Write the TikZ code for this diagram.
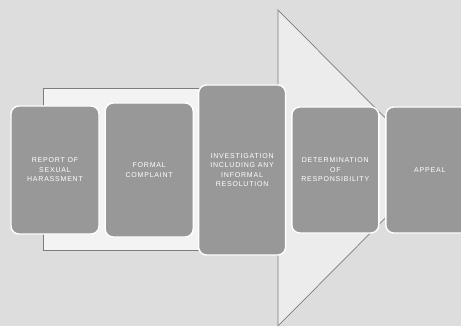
\documentclass[tikz,border=0pt]{standalone}
\usepackage{fontspec}
\setmainfont{Liberation Sans}
\newfontfamily\stepfont[LetterSpace=11]{Liberation Sans}
\usepackage{tikz}
\usetikzlibrary{positioning}
\definecolor{pagegray}{RGB}{221,221,221}
\definecolor{arrowfill}{RGB}{236,236,236}
\definecolor{framefill}{RGB}{243,243,243}
\definecolor{linegray}{RGB}{125,125,125}
\definecolor{boxgray}{RGB}{152,152,152}
\tikzset{
  stepbox/.style={draw=white,fill=boxgray,line width=0.7mm,rounded corners=4mm,
    minimum width=44mm,minimum height=64mm,align=center,text=white,
    font=\stepfont\fontsize{10}{13.5}\selectfont},
  outline/.style={draw=linegray,line width=0.35mm},
}
\begin{document}
\begin{tikzpicture}[x=0.5mm,y=-0.5mm]
  \useasboundingbox (0,0) rectangle (461,326);
  \fill[pagegray] (0,0) rectangle (461,326);
  % big arrow behind the steps
  \draw[outline,fill=arrowfill] (278,10) -- (435,168) -- (278,326) -- cycle;
  % frame round the first two steps
  \draw[outline,fill=framefill] (43,88) rectangle (215,250);
  \node[stepbox] (report) at (55,170) {REPORT OF\\SEXUAL\\HARASSMENT};
  \node[stepbox,minimum height=67mm,right=2.4mm of report] (complaint) {FORMAL\\COMPLAINT};
  \node[stepbox,minimum width=43.5mm,minimum height=85mm,right=2mm of complaint] (investigation)
    {INVESTIGATION\\INCLUDING ANY\\INFORMAL\\RESOLUTION};
  \node[stepbox,minimum width=43.5mm,minimum height=63mm,right=2.4mm of investigation] (determination)
    {DETERMINATION\\OF\\RESPONSIBILITY};
  \node[stepbox,minimum height=63mm,right=2.8mm of determination] (appeal) {APPEAL};
\end{tikzpicture}
\end{document}
